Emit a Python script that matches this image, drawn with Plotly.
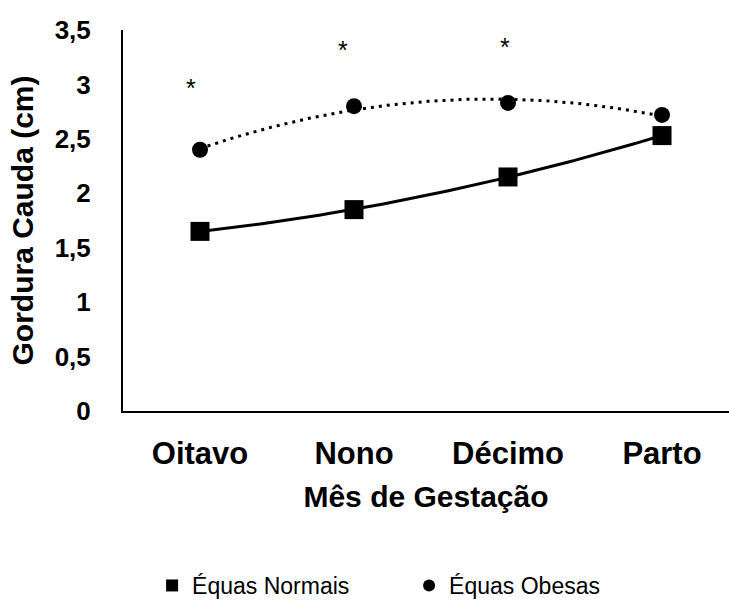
import numpy as np
import plotly.graph_objects as go

# Gestation month categories
meses = ["Oitavo", "Nono", "Décimo", "Parto"]

# Tail fat thickness (cm) per group
normais = [1.65, 1.85, 2.15, 2.53]
obesas = [2.40, 2.80, 2.83, 2.72]

# Significance marks (height of the asterisk above each month)
signif_meses = ["Oitavo", "Nono", "Décimo"]
signif_y = [2.97, 3.32, 3.34]
signif_shift = [-9, -11, -3]

# Y axis ticks with comma decimal separator
y_ticks = [0, 0.5, 1, 1.5, 2, 2.5, 3, 3.5]
y_ticktext = ["0", "0,5", "1", "1,5", "2", "2,5", "3", "3,5"]

FONT = "Liberation Sans, Arial, sans-serif"

x_idx = np.arange(len(meses))
x_dense = np.linspace(0, len(meses) - 1, 200)


def trend(values):
    """Second-order polynomial trend line evaluated on a dense grid."""
    coef = np.polyfit(x_idx, values, 2)
    return np.polyval(coef, x_dense)


fig = go.Figure()

# Trend lines
fig.add_trace(go.Scatter(
    x=x_dense, y=trend(obesas), mode="lines",
    line=dict(color="black", width=3, dash="3px,5px"),
    showlegend=False, hoverinfo="skip",
))
fig.add_trace(go.Scatter(
    x=x_dense, y=trend(normais), mode="lines",
    line=dict(color="black", width=3),
    showlegend=False, hoverinfo="skip",
))

# Observed means
fig.add_trace(go.Scatter(
    x=x_idx, y=normais, mode="markers", name="Équas Normais",
    marker=dict(symbol="square", size=19, color="black"),
))
fig.add_trace(go.Scatter(
    x=x_idx, y=obesas, mode="markers", name="Équas Obesas",
    marker=dict(symbol="circle", size=16, color="black"),
))

# Asterisks marking significant differences
for m, yv, dx in zip(signif_meses, signif_y, signif_shift):
    fig.add_annotation(
        x=meses.index(m), y=yv, text="*", showarrow=False,
        xshift=dx, font=dict(family=FONT, size=25, color="black"),
    )

fig.update_layout(
    width=729, height=604,
    margin=dict(l=123, r=0, t=30, b=193, autoexpand=False),
    paper_bgcolor="white", plot_bgcolor="white",
    font=dict(family=FONT, color="black"),
    legend=dict(
        orientation="h", x=0.048, xanchor="left", y=-0.458, yanchor="middle",
        font=dict(family=FONT, size=23, color="black"),
        itemwidth=30, entrywidth=212, itemsizing="constant",
        bgcolor="rgba(0,0,0,0)",
    ),
)

fig.update_xaxes(
    range=[-0.5, 3.435], automargin=False,
    tickmode="array", tickvals=list(x_idx), ticktext=meses,
    tickfont=dict(family=FONT, size=31, color="black", weight="bold"),
    showline=True, linecolor="black", linewidth=2,
    showgrid=False, zeroline=False, ticks="", ticklabelstandoff=14,
    title=dict(text="Mês de Gestação", standoff=16,
               font=dict(family=FONT, size=30, color="black", weight="bold")),
)
fig.update_yaxes(
    range=[0, 3.5], automargin=False,
    tickmode="array", tickvals=y_ticks, ticktext=y_ticktext,
    tickfont=dict(family=FONT, size=26, color="black", weight="bold"),
    showline=True, linecolor="black", linewidth=2,
    showgrid=False, zeroline=False, ticks="", ticklabelstandoff=25,
    title=dict(text="Gordura Cauda (cm)", standoff=12,
               font=dict(family=FONT, size=30, color="black", weight="bold")),
)

fig.write_html("out.html")
